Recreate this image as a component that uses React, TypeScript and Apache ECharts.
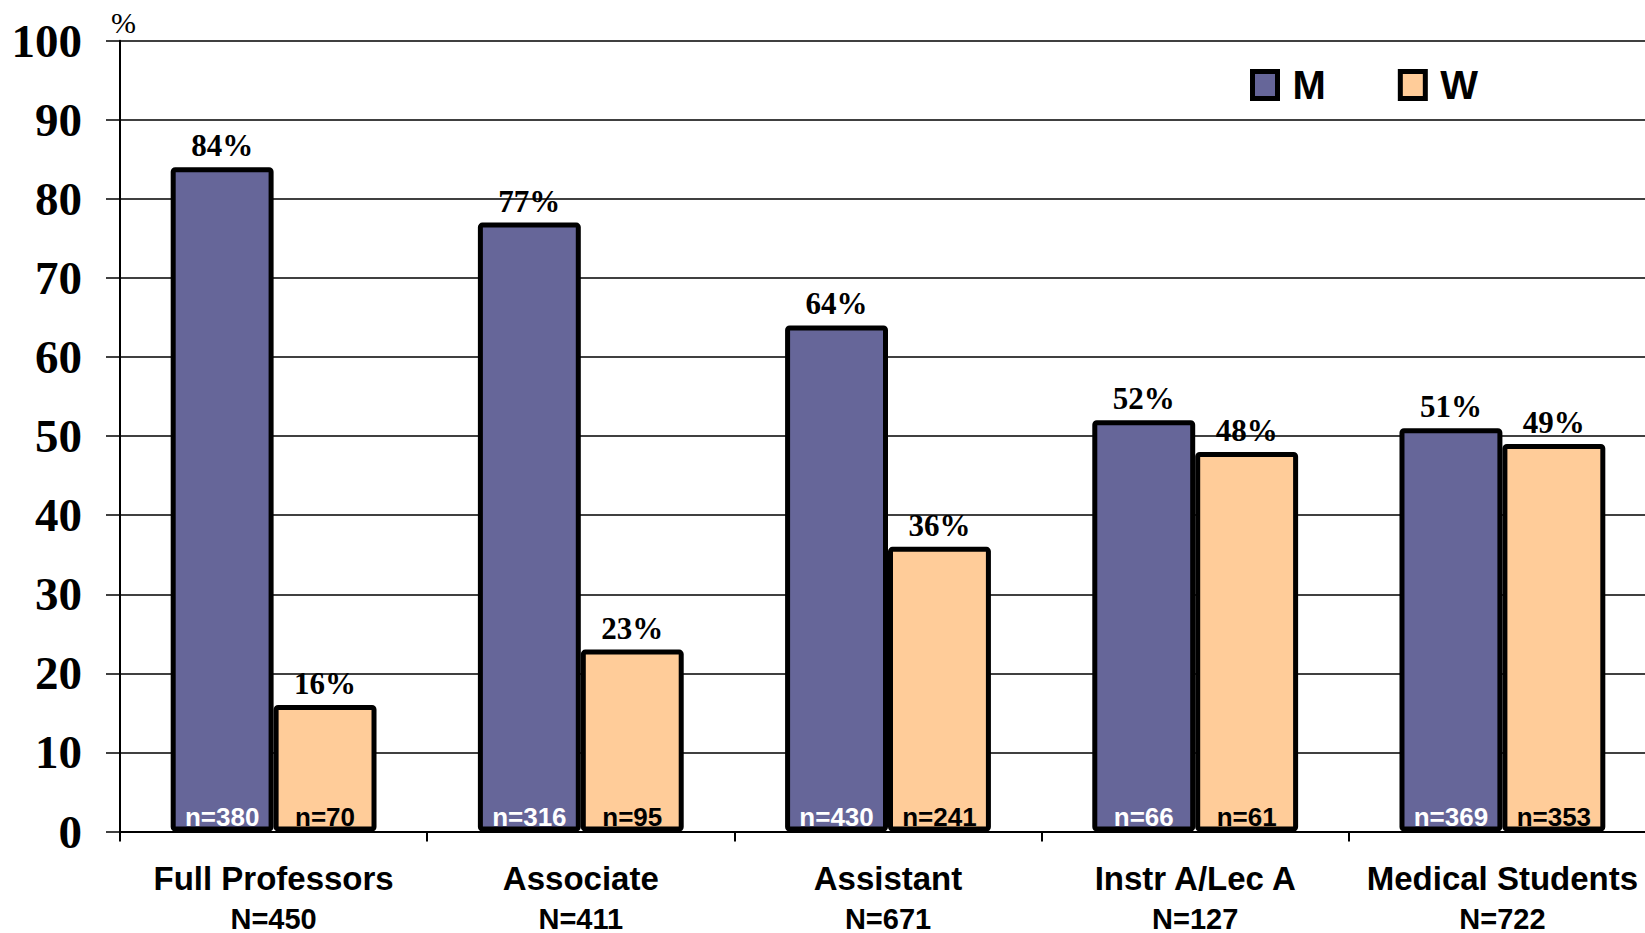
import React, { useEffect, useRef } from "react";
import * as echarts from "echarts";

const categories = ["Full Professors", "Associate", "Assistant", "Instr A/Lec A", "Medical Students"];
const totals = [450, 411, 671, 127, 722];
const menPct = [84, 77, 64, 52, 51];
const womenPct = [16, 23, 36, 48, 49];
const menN = [380, 316, 430, 66, 369];
const womenN = [70, 95, 241, 61, 353];

const SERIF = '"Liberation Serif", "Times New Roman", serif';
const SANS = '"Liberation Sans", Arial, sans-serif';
const M_COLOR = "#666699";
const W_COLOR = "#FFCC99";

export default function App() {
  const ref = useRef<HTMLDivElement>(null);
  useEffect(() => {
    document.body.style.margin = "0";
    document.body.style.overflow = "hidden";
    if (!ref.current) return;
    const chart = echarts.init(ref.current, null, { renderer: "svg" });
    const barBase = {
      type: "bar" as const,
      barGap: "0%",
      barCategoryGap: "33%",
    };
    const pctLabel = {
      show: true,
      position: "top" as const,
      distance: 6,
      formatter: "{c}%",
      fontFamily: SERIF,
      fontWeight: "bold" as const,
      fontSize: 31,
      color: "#000",
    };
    const nLabel = (arr: number[], color: string) => ({
      show: true,
      position: "insideBottom" as const,
      distance: 2,
      formatter: (p: any) => `n=${arr[p.dataIndex]}`,
      fontFamily: SANS,
      fontWeight: "bold" as const,
      fontSize: 26,
      color,
    });
    chart.setOption({
      animation: false,
      backgroundColor: "#fff",
      grid: { left: 120, right: 0, top: 40.7, bottom: 99, containLabel: false },
      legend: {
        data: ["M", "W"],
        icon: "rect",
        left: 1250,
        top: 65,
        padding: 0,
        itemWidth: 25,
        itemHeight: 27,
        itemGap: 72,
        itemStyle: { borderWidth: 5, borderColor: "#000" },
        textStyle: {
          fontFamily: SANS,
          fontWeight: "bold",
          fontSize: 40,
          color: "#000",
          padding: [0, 0, 0, 10],
        },
      },
      graphic: [
        {
          type: "text",
          left: 111,
          top: 7,
          style: { text: "%", fontFamily: SERIF, fontSize: 30, fill: "#000" },
        },
      ],
      xAxis: [
        {
          type: "category",
          data: categories,
          axisLine: { show: true, lineStyle: { color: "#000", width: 2 } },
          axisTick: { show: true, length: 10, lineStyle: { color: "#000", width: 2 } },
          axisLabel: {
            margin: 27,
            interval: 0,
            formatter: (v: string, i: number) => `{a|${v}}\n{b|N=${totals[i]}}`,
            rich: {
              a: { fontFamily: SANS, fontWeight: "bold", fontSize: 33, lineHeight: 40, color: "#000" },
              b: { fontFamily: SANS, fontWeight: "bold", fontSize: 29, lineHeight: 40, color: "#000" },
            },
          },
        },
        {
          type: "category",
          data: categories,
          show: false,
        },
      ],
      yAxis: {
        type: "value",
        min: 0,
        max: 100,
        interval: 10,
        axisLine: { show: true, lineStyle: { color: "#000", width: 2 } },
        axisTick: { show: true, length: 14, lineStyle: { color: "#000", width: 1.5 } },
        splitLine: { show: true, lineStyle: { color: "#000", width: 1.5 } },
        axisLabel: {
          margin: 38,
          fontFamily: SERIF,
          fontWeight: "bold",
          fontSize: 47,
          color: "#000",
        },
      },
      series: [
        {
          ...barBase,
          name: "M",
          data: menPct,
          itemStyle: { color: M_COLOR, borderColor: "#000", borderWidth: 5, borderRadius: 2 },
          label: pctLabel,
        },
        {
          ...barBase,
          name: "W",
          data: womenPct,
          itemStyle: { color: W_COLOR, borderColor: "#000", borderWidth: 5, borderRadius: 2 },
          label: pctLabel,
        },
        {
          ...barBase,
          name: "M n",
          xAxisIndex: 1,
          data: menPct,
          silent: true,
          itemStyle: { color: "rgba(0,0,0,0)", borderWidth: 0 },
          label: nLabel(menN, "#fff"),
        },
        {
          ...barBase,
          name: "W n",
          xAxisIndex: 1,
          data: womenPct,
          silent: true,
          itemStyle: { color: "rgba(0,0,0,0)", borderWidth: 0 },
          label: nLabel(womenN, "#000"),
        },
      ],
    });
    return () => chart.dispose();
  }, []);
  return (
    <div style={{ width: 1645, height: 933, overflow: "hidden" }}>
      <div ref={ref} style={{ width: 1656, height: 933 }} />
    </div>
  );
}
